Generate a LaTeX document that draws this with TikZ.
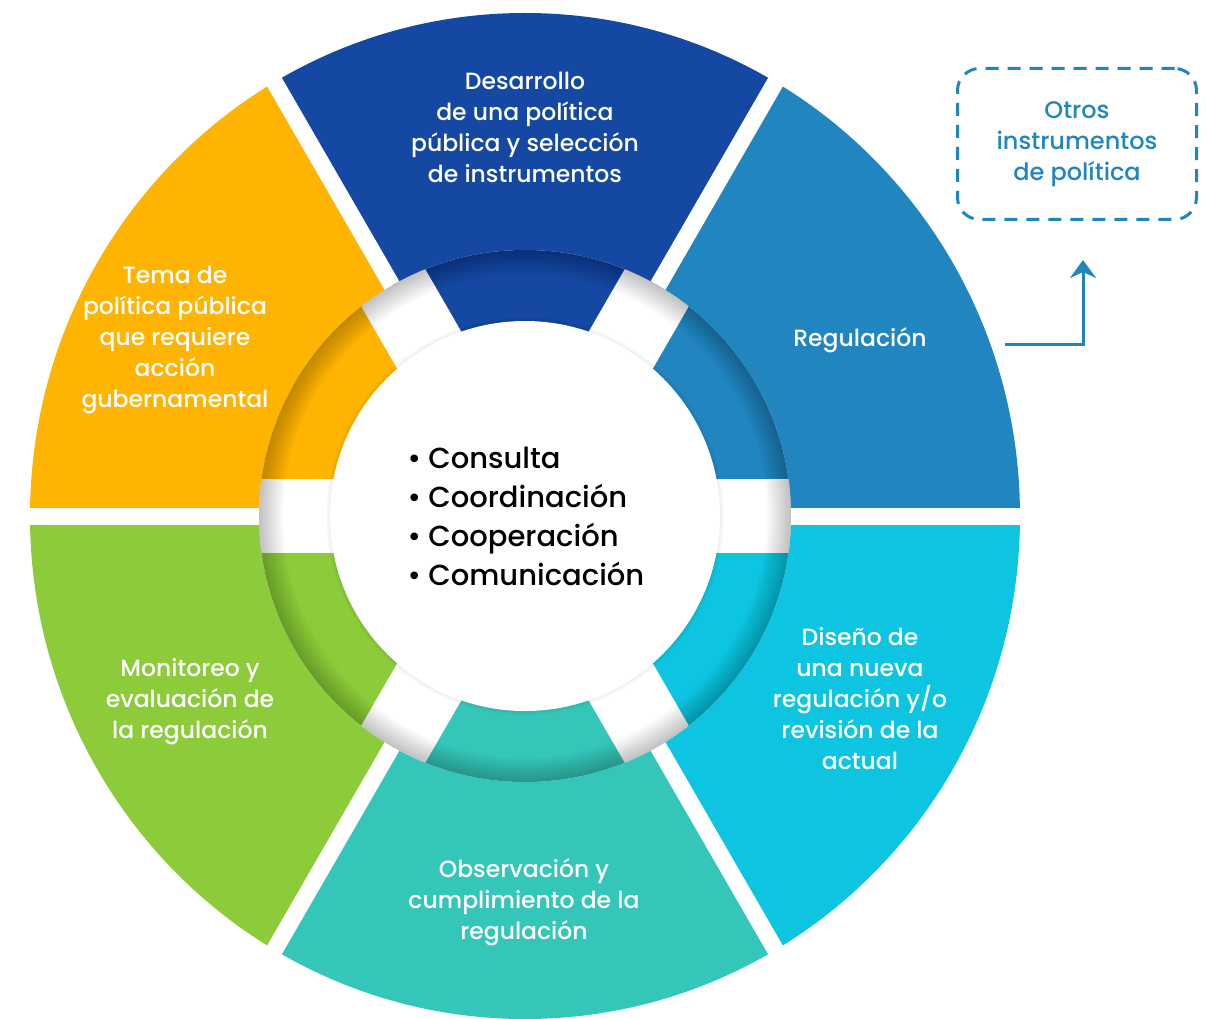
\documentclass[tikz,border=0pt]{standalone}
\usepackage{fontspec}
\setmainfont{Poppins Medium}
\usepackage{xcolor}
\definecolor{regulacion}{RGB}{33,134,192}
\definecolor{desarrollo}{RGB}{21,72,162}
\definecolor{tema}{RGB}{254,180,0}
\definecolor{monitoreo}{RGB}{140,204,58}
\definecolor{observacion}{RGB}{53,198,186}
\definecolor{diseno}{RGB}{13,197,224}
\usetikzlibrary{arrows.meta}
\usetikzlibrary{calc}

\tikzset{
	etapa/.style = {text = white, align = center, font = \fontsize{23.5}{31}\selectfont},
	hueco/.style = {white, line width = 17pt},
	huecoancho/.style = {white, line width = 74pt},
}

\begin{document}
\begin{tikzpicture}[x = 1pt, y = 1pt]

	\useasboundingbox (-525,-502) rectangle (682,516);

	\foreach \ini/\col in {0/regulacion, 60/desarrollo, 120/tema, 180/monitoreo, 240/observacion, 300/diseno}
	{
		\begin{scope}
			\clip (0,0) -- (\ini:700) -- (\ini+60:700) -- cycle;
			\fill [\col] (0,0) ellipse [x radius = 495, y radius = 503];
		\end{scope}
	}

	\draw [hueco] 	(180:600) -- (0:600);
	\draw [hueco] 	(240:600) -- (60:600);
	\draw [hueco] 	(300:600) -- (120:600);

	\fill [white] 	(0,0) circle (266);

	\begin{scope}
		\clip (0,0) circle (266);
		\foreach \ini/\col in {0/regulacion, 60/desarrollo, 120/tema, 180/monitoreo, 240/observacion, 300/diseno}
		{
			\fill [\col] (0,0) -- (\ini:300) arc (\ini:\ini+60:300) -- cycle;
		}
		\draw [huecoancho] 	(180:300) -- (0:300);
		\draw [huecoancho] 	(240:300) -- (60:300);
		\draw [huecoancho] 	(300:300) -- (120:300);
		\foreach \k in {1,...,12}
			\draw [black, opacity = 0.018, line width = 4*\k] (0,0) circle (266);
	\end{scope}

	\foreach \k in {1,...,4}
		\draw [black, opacity = 0.015, line width = 2*\k] (0,0) circle (195);
	\fill [white] 	(0,0) circle (195);

	\node [etapa] (desarrollo) at (0,389) {Desarrollo\\de una política\\pública y selección\\de instrumentos};
	\node [etapa] (regulacion) at (335,176) {Regulación};
	\node [etapa] (diseno) at (335,-183) {Diseño de\\una nueva\\regulación y/o\\revisión de la\\actual};
	\node [etapa] (observacion) at (-1,-386) {Observación y\\cumplimiento de la\\regulación};
	\node [etapa] (monitoreo) at (-335,-186) {Monitoreo y\\evaluación de\\la regulación};
	\node [etapa] (tema) at (-350,176) {Tema de\\política pública\\que requiere\\acción\\gubernamental};

	\node [anchor = west, align = left, font = \fontsize{29}{39}\selectfont] (centro) at (-121,0)
		{• Consulta\\• Coordinación\\• Cooperación\\• Comunicación};

	\node [draw = regulacion, text = regulacion, line width = 3pt, dash pattern = on 13pt off 9pt,
		rounded corners = 22pt, minimum width = 239pt, minimum height = 151pt, align = center,
		font = \fontsize{24}{31}\selectfont] (otros) at (552,372) {Otros\\instrumentos\\de política};

	\coordinate (salida) at (480,172);
	\coordinate (punta) at (558,256);
	\draw [regulacion, line width = 3pt, -{Stealth[length = 18pt, width = 26pt, inset = 6pt]}]
					(salida) -| (punta);

\end{tikzpicture}
\end{document}
